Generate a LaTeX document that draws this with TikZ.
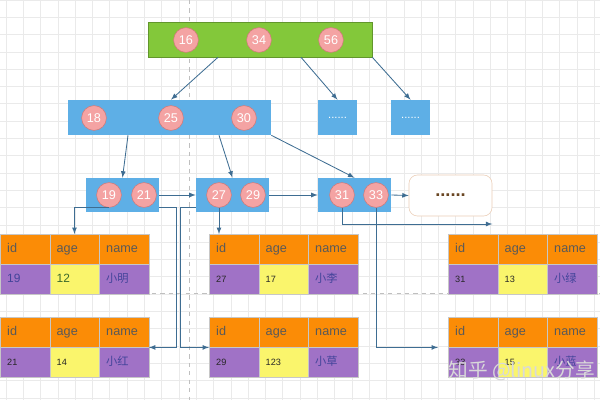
\documentclass[tikz,border=0pt]{standalone}
\usepackage{fontspec}
\setmainfont{Liberation Sans}
\newfontfamily\cjk{Noto Sans CJK SC}
\usetikzlibrary{calc}

\definecolor{rootgreen}{HTML}{83C83A}
\definecolor{boxblue}{HTML}{5EAFE6}
\definecolor{keypink}{HTML}{F4A3A3}
\definecolor{keyedge}{HTML}{D07878}
\definecolor{hdrorange}{HTML}{FB8C06}
\definecolor{rowpurple}{HTML}{A072C6}
\definecolor{ageyellow}{HTML}{FAF56C}
\definecolor{linkblue}{HTML}{3E6D92}
\definecolor{nameblue}{HTML}{43449A}
\definecolor{agegreen}{HTML}{3C6A2C}
\definecolor{gridgray}{HTML}{EAEAEA}
\definecolor{moreedge}{HTML}{EBCDB6}

\tikzset{
  keyball/.style={circle, fill=keypink, draw=keyedge, line width=0.4pt, minimum size=0.62cm, inner sep=0pt, text=white, font=\fontsize{9}{10}\selectfont},
  bluebox/.style={fill=boxblue, inner sep=0pt},
  cell/.style={anchor=north west, draw=black!22, line width=0.3pt, text width=0.8875cm, inner xsep=0.175cm, inner ysep=0pt, minimum height=0.75cm, text height=6.5pt, text depth=1.5pt, align=left},
  hdr/.style={cell, fill=hdrorange, text=black!65, font=\fontsize{9}{10}\selectfont},
  numbig/.style={text=nameblue, font=\fontsize{8.5}{10}\selectfont},
  agebig/.style={text=agegreen, font=\fontsize{8.5}{10}\selectfont},
  numsmall/.style={text=black!85, font=\fontsize{6.5}{8}\selectfont},
  namecell/.style={cell, fill=rowpurple, text=nameblue, font=\cjk\fontsize{8}{10}\selectfont},
  link/.style={->, draw=linkblue, line width=0.6pt},
}

\begin{document}
\begin{tikzpicture}[x=0.025cm, y=-0.025cm, >=latex]
\useasboundingbox (0,0) rectangle (600,400);

% background grid and page guides
\foreach \gx in {6,23.3,...,600} \draw[gridgray, line width=0.5pt] (\gx,0) -- (\gx,400);
\foreach \gy in {0,17.3,...,400} \draw[gridgray, line width=0.5pt] (0,\gy) -- (600,\gy);
\draw[black!25, dashed, line width=0.4pt] (189,0) -- (189,400);
\draw[black!25, dashed, line width=0.4pt] (0,293) -- (600,293);

% root
\node[fill=rootgreen, draw=rootgreen!75!black, line width=0.4pt, minimum width=5.6cm, minimum height=0.875cm] (root) at (260,39.5) {};
\node[keyball] (r16) at (186,40) {16};
\node[keyball] (r34) at (259,40) {34};
\node[keyball] (r56) at (331,40) {56};

% second level
\node[bluebox, minimum width=5.075cm, minimum height=0.875cm] (mid) at (169.5,117.5) {};
\node[keyball] (m18) at (94,118) {18};
\node[keyball] (m25) at (171,118) {25};
\node[keyball] (m30) at (244,118) {30};
\node[bluebox, minimum width=0.975cm, minimum height=0.875cm, text=white, font=\fontsize{8}{8}\selectfont] (dotsa) at (337.5,117.5) {......};
\node[bluebox, minimum width=0.975cm, minimum height=0.875cm, text=white, font=\fontsize{8}{8}\selectfont] (dotsb) at (410.5,117.5) {......};

% leaves
\node[bluebox, minimum width=1.825cm, minimum height=0.85cm] (leafa) at (122.5,195) {};
\node[keyball] (c19) at (109,195) {19};
\node[keyball] (c21) at (144,195) {21};
\node[bluebox, minimum width=1.825cm, minimum height=0.85cm] (leafb) at (232.5,195) {};
\node[keyball] (c27) at (219,195) {27};
\node[keyball] (c29) at (253,195) {29};
\node[bluebox, minimum width=1.825cm, minimum height=0.85cm] (leafc) at (354.5,195) {};
\node[keyball] (c31) at (342,195) {31};
\node[keyball] (c33) at (376,195) {33};
\node[draw=moreedge, fill=white, rounded corners=6pt, minimum width=2.075cm, minimum height=1.025cm, text=brown!55!black, font=\fontsize{13}{13}\selectfont\bfseries] (more) at (450.5,195.5) {......};

% rows
\foreach \tn/\tx/\ty/\vid/\vage/\vname/\sid/\sage in {1/0/234/19/12/小明/numbig/agebig, 2/209/234/27/17/小李/numsmall/numsmall, 3/0/317/21/14/小红/numsmall/numsmall, 4/209/317/29/123/小草/numsmall/numsmall, 5/448/234/31/13/小绿/numsmall/numsmall, 6/448/317/33/15/小蓝/numsmall/numsmall}{
  \node[hdr] (t\tn-id) at (\tx,\ty) {id};
  \node[hdr] (t\tn-age) at (\tx+49.5,\ty) {age};
  \node[hdr] (t\tn-name) at (\tx+99,\ty) {name};
  \node[cell, fill=rowpurple, \sid] (t\tn-vid) at (\tx,\ty+30) {\vid};
  \node[cell, fill=ageyellow, \sage] (t\tn-vage) at (\tx+49.5,\ty+30) {\vage};
  \node[namecell] (t\tn-vname) at (\tx+99,\ty+30) {\vname};
}

% tree links
\draw[link] ($(root.south)+(-42,0)$) -- (m25 |- mid.north);
\draw[link] ($(root.south)+(41,0)$) -- (dotsa.north);
\draw[link] (root.south east) -- (dotsb.north);
\draw[link] ($(mid.south)+(-41.5,0)$) -- (leafa.north);
\draw[link] ($(mid.south)+(49.5,0)$) -- (leafb.north);
\draw[link] (mid.south east) -- (leafc.north);
\draw[link] (leafa.east) -- (leafb.west);
\draw[link] (leafb.east) -- (leafc.west);
\draw[link] (leafc.east) -- (more.west);

% leaf keys to rows
\coordinate (drop) at ($(leafa.east)!0.5!(leafb.west)$);
\draw[link] (c19.south) -| (t1-age.north);
\draw[link] (leafa.east |- c21.south) -- ($(drop |- c21.south)+(-1,0)$) |- (t3-name.south east);
\draw[link] (leafb.west |- c29.south) -- ($(drop |- c29.south)+(2.5,0)$) |- (t4-id.south west);
\draw[link] (c27.south) -- (c27.south |- t2-id.north);
\draw[link] (c31.south) |- ($(more.east |- t5-id.north)+(0,-10)$);
\draw[link] (c33.south) |- ($(t6-id.south west)+(-10,0)$);

\node[text=white!85!black, font=\cjk\fontsize{14}{14}\selectfont, anchor=east] (mark) at (600,371) {知乎 @linux分享};
\end{tikzpicture}
\end{document}
